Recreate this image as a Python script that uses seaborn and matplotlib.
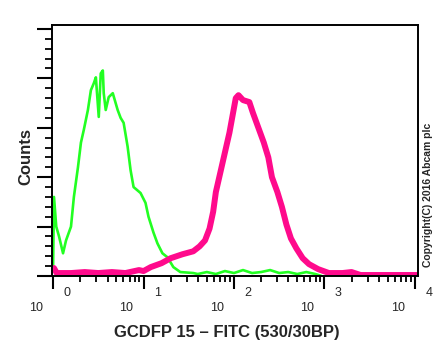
import numpy as np
import pandas as pd
import matplotlib
matplotlib.use("Agg")
import matplotlib.pyplot as plt
import seaborn as sns
from matplotlib.ticker import FixedLocator, NullFormatter, LogLocator

# ---- data (log10 of FITC intensity, counts) ----
green_log = [0.0, 0.01, 0.035, 0.066, 0.11, 0.143, 0.198, 0.23, 0.275, 0.308, 0.34,
             0.385, 0.418, 0.45, 0.473, 0.505, 0.527, 0.55, 0.56, 0.582, 0.615, 0.66,
             0.714, 0.747, 0.78, 0.824, 0.857, 0.89, 0.967, 1.022, 1.055, 1.11, 1.154,
             1.209, 1.264, 1.33, 1.407, 1.55, 1.6, 1.7, 1.8, 1.9, 2.0, 2.1, 2.2, 2.3,
             2.4, 2.5, 2.6, 2.7, 2.8, 2.9, 2.97]
green_counts = [10, 80, 50, 40, 23, 36, 50, 80, 110, 135, 148,
                168, 188, 195, 201, 161, 205, 208, 185, 168, 181, 185,
                168, 160, 155, 131, 107, 90, 84, 74, 60, 44, 33,
                23, 19, 9, 4, 3, 2, 4, 2, 5, 3, 6, 3, 4,
                6, 3, 4, 2, 4, 2, 0]

pink_log = [0.0, 0.01, 0.04, 0.2, 0.35, 0.5, 0.65, 0.8, 0.95, 1.0, 1.08, 1.2, 1.3,
            1.43, 1.55, 1.62, 1.68, 1.73, 1.77, 1.8, 1.85, 1.9, 1.95, 1.99, 2.02,
            2.05, 2.1, 2.17, 2.21, 2.27, 2.33, 2.38, 2.42, 2.48, 2.53, 2.58, 2.63,
            2.69, 2.76, 2.83, 2.93, 3.05, 3.2, 3.3, 3.4, 3.6, 4.03]
pink_counts = [8, 8, 3, 3, 4, 3, 4, 3, 6, 5, 9, 13, 18,
               22, 25, 30, 36, 48, 65, 85, 105, 125, 145, 165, 180,
               183, 178, 176, 165, 150, 135, 120, 100, 85, 70, 52, 38,
               28, 18, 12, 7, 3, 3, 4, 1, 1, 1]

decade_ticks = [1, 10, 100, 1000, 10000]
exponents = ["0", "1", "2", "3", "4"]

green_df = pd.DataFrame({"x": 10 ** np.array(green_log), "y": green_counts})
pink_df = pd.DataFrame({"x": 10 ** np.array(pink_log), "y": pink_counts})

sns.set_style("ticks")
plt.rcParams["font.family"] = ["Liberation Sans", "DejaVu Sans"]

fig = plt.figure(figsize=(4.48, 3.48), dpi=100)
ax = fig.add_axes([52 / 448, 1 - 276 / 348, (418 - 52) / 448, (276 - 25) / 348])

sns.lineplot(data=green_df, x="x", y="y", ax=ax, color="#22ff22", linewidth=1.9,
             sort=False, estimator=None)
sns.lineplot(data=pink_df, x="x", y="y", ax=ax, color="#ff0a8c", linewidth=4.3,
             sort=False, estimator=None, solid_capstyle="butt")

ax.set_xscale("log")
ax.set_xlim(10 ** -0.012, 10 ** 4.035)
ax.set_ylim(0, 254)

for s in ax.spines.values():
    s.set_linewidth(1.4)
    s.set_color("black")

ax.xaxis.set_major_locator(FixedLocator(decade_ticks))
ax.xaxis.set_minor_locator(LogLocator(base=10, subs=np.arange(2, 10), numticks=20))
ax.xaxis.set_major_formatter(NullFormatter())
ax.xaxis.set_minor_formatter(NullFormatter())
ax.yaxis.set_major_locator(FixedLocator(np.arange(0, 251, 50)))
ax.yaxis.set_minor_locator(FixedLocator(np.arange(0, 251, 10)))
ax.yaxis.set_major_formatter(NullFormatter())

ax.tick_params(axis="x", which="major", direction="out", length=9, width=1.5, color="black")
ax.tick_params(axis="x", which="minor", direction="out", length=4.5, width=1.3, color="black")
ax.tick_params(axis="y", which="major", direction="out", length=11, width=1.5, color="black")
ax.tick_params(axis="y", which="minor", direction="out", length=5, width=1.3, color="black")
ax.set_xlabel("")
ax.set_ylabel("")

trans = ax.get_xaxis_transform()
for t, e in zip(decade_ticks, exponents):
    ax.text(t * 10 ** (14 / 90.5), -17 / 251, e, transform=trans, ha="center",
            va="center", fontsize=9, clip_on=False)
    ax.text(t * 10 ** (-17 / 90.5), -32 / 251, "10", transform=trans, ha="center",
            va="center", fontsize=9, clip_on=False)

fig.text(227 / 448, 1 - 332 / 348, "GCDFP 15 \u2013 FITC (530/30BP)", ha="center",
         va="center", fontsize=12, fontweight="bold")
fig.text(26 / 448, 1 - 157 / 348, "Counts", ha="center", va="center", rotation=90,
         fontsize=12, fontweight="bold")
fig.text(428 / 448, 1 - 195 / 348, "Copyright(C) 2016 Abcam plc", ha="center",
         va="center", rotation=90, fontsize=7.5, fontweight="bold")

fig.savefig("out.png", dpi=100)
